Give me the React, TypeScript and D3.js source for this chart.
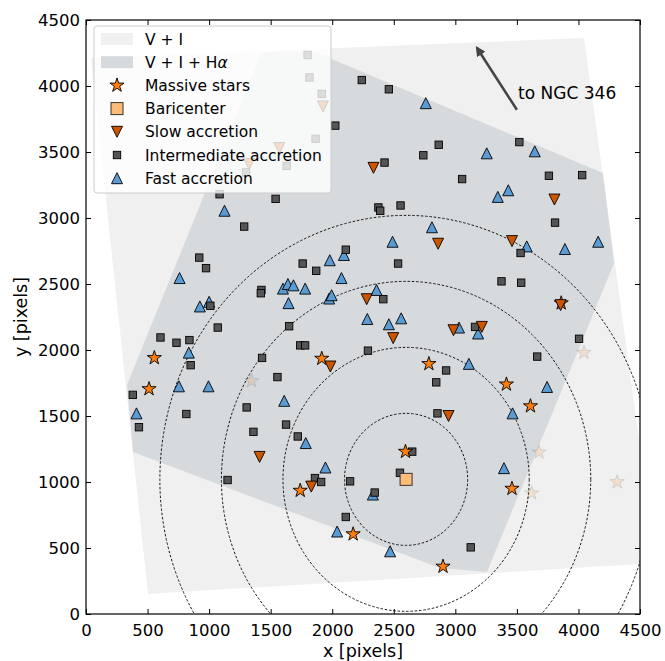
import { useEffect, useRef } from 'react'
import * as d3 from 'd3'

const xTicks = [0, 500, 1000, 1500, 2000, 2500, 3000, 3500, 4000, 4500]
const yTicks = [0, 500, 1000, 1500, 2000, 2500, 3000, 3500, 4000, 4500]

// image footprints (data coords)
const fieldVI: [number, number][] = [[40, 4212], [4045, 4364], [4630, 386], [504, 152]]
const fieldVIHa: [number, number][] = [
  [1430, 4258], [1860, 4258], [4199, 3341], [4290, 2659],
  [3257, 318], [2875, 348], [382, 1227], [333, 1735],
]

const baricenter: [number, number] = [2600, 1020]
const radii = [500, 1000, 1500, 2000]

const massiveStars: [number, number][] = [
  [555, 1940], [512, 1705], [1915, 1935], [1740, 935], [2170, 605], [2595, 1230],
  [2785, 1895], [3415, 1740], [3610, 1575], [3460, 950], [2900, 360], [3860, 2355],
]
// stars outside the H-alpha field
const massiveStarsOut: [number, number][] = [
  [1345, 1765], [4045, 1980], [3680, 1225], [3620, 915], [4315, 1000],
]

const slowAccretion: [number, number][] = [
  [2335, 3380], [3805, 3140], [2860, 2805], [3460, 2825], [2280, 2385], [2495, 2090],
  [2985, 2150], [3215, 2175], [3855, 2340], [1985, 1875], [1410, 1190], [1830, 965],
  [2945, 1500], [1925, 3845], [1570, 3530], [1325, 3410],
]

const intermediateAccretion: [number, number][] = [
  [1800, 4235], [1815, 4065], [1915, 3940], [1865, 3600], [1630, 3395], [1300, 3345],
  [2240, 4045], [2025, 3700], [2460, 3975], [2865, 3555], [2740, 3475], [2425, 3420],
  [3055, 3295], [3520, 3575], [3760, 3320], [4030, 3325], [3810, 2965], [2375, 3080],
  [2390, 3055], [2555, 3095], [1085, 3180], [1540, 3145], [1285, 2935], [920, 2700],
  [975, 2620], [2110, 2760], [1760, 2655], [1870, 2600], [1425, 2455], [1420, 2430],
  [1010, 2335], [1070, 2170], [1650, 2180], [605, 2095], [735, 2055], [840, 2075],
  [850, 1885], [1740, 2035], [1780, 2035], [1430, 1940], [1555, 1795], [380, 1660],
  [430, 1415], [815, 1515], [1305, 1565], [1625, 1435], [1360, 1380], [1720, 1345],
  [1150, 1015], [1860, 1030], [1910, 1000], [2145, 1005], [2345, 920], [2110, 735],
  [3125, 505], [2650, 1230], [2550, 1070], [2535, 2655], [3530, 2735], [3375, 2520],
  [3535, 2510], [2415, 2385], [3160, 2175], [4005, 2085], [3665, 1950], [2290, 1995],
  [2925, 1845], [2845, 1755], [2855, 1520],
]

const fastAccretion: [number, number][] = [
  [2760, 3870], [3255, 3490], [3645, 3505], [3430, 3210], [3345, 3160], [2810, 2930],
  [2490, 2820], [3580, 2785], [3890, 2765], [4160, 2820], [1125, 3055], [2095, 2720],
  [1980, 2680], [2075, 2545], [760, 2545], [1600, 2465], [1640, 2500], [1685, 2490],
  [1780, 2465], [1000, 2365], [925, 2330], [1645, 2355], [1975, 2390], [1995, 2415],
  [835, 1980], [755, 1725], [995, 1725], [1610, 1615], [410, 1520], [1785, 1295],
  [1945, 1110], [2330, 905], [2040, 625], [2470, 475], [2360, 2455], [2285, 2235],
  [2460, 2195], [2560, 2240], [3030, 2170], [3185, 2125], [3110, 1895], [3745, 1720],
  [3465, 1520], [3395, 1105],
]

const arrowFrom: [number, number] = [3500, 3820]
const arrowTo: [number, number] = [3175, 4290]

const C = {
  light: '#f0f0f0',
  dark: '#d7dadd',
  star: '#ff7f0e',
  bari: '#ffbb78',
  slow: '#cc5500',
  inter: '#555555',
  fast: '#5a9bd4',
}

const triUp = (s: number) => `M0,${-s}L${s},${s}L${-s},${s}Z`
const triDown = (s: number) => `M0,${s}L${s},${-s}L${-s},${-s}Z`
const star = d3.symbol().type(d3.symbolStar).size(62)()

export default function App() {
  const ref = useRef<SVGSVGElement>(null)

  useEffect(() => {
    document.body.style.margin = '0'
    const svg = d3.select(ref.current)
    svg.selectAll('*').remove()

    const L = 86, R = 640, T = 20, B = 614
    const x = d3.scaleLinear().domain([0, 4500]).range([L, R])
    const y = d3.scaleLinear().domain([0, 4500]).range([B, T])

    svg.append('defs').append('clipPath').attr('id', 'plot')
      .append('rect').attr('x', L).attr('y', T).attr('width', R - L).attr('height', B - T)

    const g = svg.append('g').attr('clip-path', 'url(#plot)')
    const line = d3.line<[number, number]>().x(d => x(d[0])).y(d => y(d[1])).curve(d3.curveLinearClosed)

    g.append('path').attr('d', line(fieldVI)).attr('fill', C.light)
    g.append('path').attr('d', line(fieldVIHa)).attr('fill', C.dark)

    // rings round the baricenter
    g.selectAll('.ring').data(radii).join('ellipse')
      .attr('cx', x(baricenter[0])).attr('cy', y(baricenter[1]))
      .attr('rx', r => x(r) - x(0)).attr('ry', r => y(0) - y(r))
      .attr('fill', 'none').attr('stroke', '#000').attr('stroke-width', 0.9)
      .attr('stroke-dasharray', '2.5,1.8')

    // markers
    g.selectAll('.fast').data(fastAccretion).join('path')
      .attr('transform', d => `translate(${x(d[0])},${y(d[1])})`)
      .attr('d', triUp(5.5)).attr('fill', C.fast).attr('stroke', '#000').attr('stroke-width', 0.9)

    g.selectAll('.inter').data(intermediateAccretion).join('rect')
      .attr('x', d => x(d[0]) - 3.7).attr('y', d => y(d[1]) - 3.7)
      .attr('width', 7.4).attr('height', 7.4)
      .attr('fill', C.inter).attr('stroke', '#000').attr('stroke-width', 0.9)

    g.selectAll('.starOut').data(massiveStarsOut).join('path')
      .attr('transform', d => `translate(${x(d[0])},${y(d[1])})`)
      .attr('d', star).attr('fill', C.star).attr('stroke', '#000').attr('stroke-width', 0.9)
      .attr('opacity', 0.15)

    g.selectAll('.star').data(massiveStars).join('path')
      .attr('transform', d => `translate(${x(d[0])},${y(d[1])})`)
      .attr('d', star).attr('fill', C.star).attr('stroke', '#000').attr('stroke-width', 0.9)

    g.selectAll('.slow').data(slowAccretion).join('path')
      .attr('transform', d => `translate(${x(d[0])},${y(d[1])})`)
      .attr('d', triDown(5.5)).attr('fill', C.slow).attr('stroke', '#000').attr('stroke-width', 0.9)

    g.append('rect')
      .attr('x', x(baricenter[0]) - 6).attr('y', y(baricenter[1]) - 6)
      .attr('width', 12).attr('height', 12)
      .attr('fill', C.bari).attr('stroke', '#333').attr('stroke-width', 1)

    // arrow to NGC 346
    svg.append('defs').append('marker').attr('id', 'head')
      .attr('viewBox', '0 0 10 10').attr('refX', 8).attr('refY', 5)
      .attr('markerWidth', 4).attr('markerHeight', 4).attr('orient', 'auto')
      .append('path').attr('d', 'M0,0L10,5L0,10Z').attr('fill', '#444')
    svg.append('line')
      .attr('x1', x(arrowFrom[0])).attr('y1', y(arrowFrom[1]))
      .attr('x2', x(arrowTo[0])).attr('y2', y(arrowTo[1]))
      .attr('stroke', '#444').attr('stroke-width', 2.5).attr('marker-end', 'url(#head)')
    svg.append('text')
      .attr('x', x(3510)).attr('y', y(3950)).attr('dy', '0.35em')
      .style('font-size', '17px').text('to NGC 346')

    // axes, ticks inside on all sides
    const fmt = d3.format('d')
    const styleAxis = (sel: any) => {
      sel.select('.domain').remove()
      sel.selectAll('line').attr('stroke', '#000').attr('stroke-width', 1)
      sel.selectAll('text').style('font-size', '16.5px').style('font-family', 'DejaVu Sans').attr('fill', '#000')
    }
    svg.append('g').attr('transform', `translate(0,${B})`)
      .call(d3.axisBottom(x).tickValues(xTicks).tickFormat(fmt).tickSize(-5).tickPadding(10)).call(styleAxis)
    svg.append('g').attr('transform', `translate(0,${T})`)
      .call(d3.axisTop(x).tickValues(xTicks).tickFormat(() => '').tickSize(-5)).call(styleAxis)
    svg.append('g').attr('transform', `translate(${L},0)`)
      .call(d3.axisLeft(y).tickValues(yTicks).tickFormat(fmt).tickSize(-5).tickPadding(6)).call(styleAxis)
    svg.append('g').attr('transform', `translate(${R},0)`)
      .call(d3.axisRight(y).tickValues(yTicks).tickFormat(() => '').tickSize(-5)).call(styleAxis)

    svg.append('rect').attr('x', L).attr('y', T).attr('width', R - L).attr('height', B - T)
      .attr('fill', 'none').attr('stroke', '#000').attr('stroke-width', 1.2)

    svg.append('text').attr('x', (L + R) / 2).attr('y', 657).attr('text-anchor', 'middle')
      .style('font-size', '17.5px').text('x [pixels]')
    svg.append('text').attr('transform', `translate(27,${(T + B) / 2}) rotate(-90)`)
      .attr('text-anchor', 'middle').style('font-size', '17.5px').text('y [pixels]')

    // legend
    const lg = svg.append('g').attr('transform', 'translate(94,26)')
    lg.append('rect').attr('width', 237).attr('height', 167).attr('rx', 3)
      .attr('fill', '#fff').attr('fill-opacity', 0.8).attr('stroke', '#cccccc')
    const rowY = (i: number) => 13 + i * 23.2
    const mx = 23
    lg.append('rect').attr('x', 7).attr('y', rowY(0) - 6).attr('width', 32).attr('height', 12).attr('fill', C.light)
    lg.append('rect').attr('x', 7).attr('y', rowY(1) - 6).attr('width', 32).attr('height', 12).attr('fill', C.dark)
    lg.append('path').attr('transform', `translate(${mx},${rowY(2)})`).attr('d', star)
      .attr('fill', C.star).attr('stroke', '#000').attr('stroke-width', 0.9)
    lg.append('rect').attr('x', mx - 6).attr('y', rowY(3) - 6).attr('width', 12).attr('height', 12)
      .attr('fill', C.bari).attr('stroke', '#333')
    lg.append('path').attr('transform', `translate(${mx},${rowY(4)})`).attr('d', triDown(5.5))
      .attr('fill', C.slow).attr('stroke', '#000').attr('stroke-width', 0.9)
    lg.append('rect').attr('x', mx - 3.7).attr('y', rowY(5) - 3.7).attr('width', 7.4).attr('height', 7.4)
      .attr('fill', C.inter).attr('stroke', '#000').attr('stroke-width', 0.9)
    lg.append('path').attr('transform', `translate(${mx},${rowY(6)})`).attr('d', triUp(5.5))
      .attr('fill', C.fast).attr('stroke', '#000').attr('stroke-width', 0.9)

    const labels = ['V + I', 'V + I + H', 'Massive stars', 'Baricenter', 'Slow accretion', 'Intermediate accretion', 'Fast accretion']
    labels.forEach((t, i) => {
      const tx = lg.append('text').attr('x', 51).attr('y', rowY(i)).attr('dy', '0.36em')
        .style('font-size', '15.5px').text(t)
      if (i === 1) tx.append('tspan').style('font-style', 'italic').text('α')
    })
  }, [])

  return <svg ref={ref} width={665} height={661} style={{ display: 'block', fontFamily: 'DejaVu Sans' }} />
}
